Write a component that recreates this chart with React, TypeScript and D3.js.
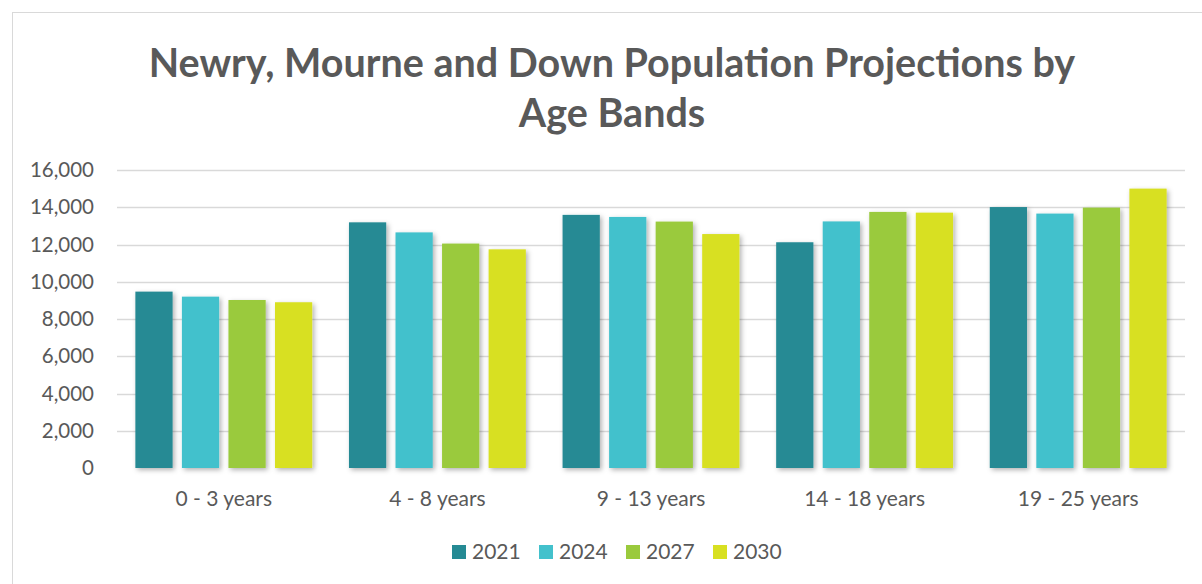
import React, { useRef, useEffect } from "react";
import * as d3 from "d3";

const ageBands = ["0 - 3 years", "4 - 8 years", "9 - 13 years", "14 - 18 years", "19 - 25 years"];
const years = ["2021", "2024", "2027", "2030"];
const pop2021 = [9470, 13190, 13590, 12120, 14010];
const pop2024 = [9200, 12650, 13480, 13240, 13660];
const pop2027 = [9020, 12050, 13230, 13750, 13980];
const pop2030 = [8900, 11740, 12560, 13710, 15000];
const yTicks = [0, 2000, 4000, 6000, 8000, 10000, 12000, 14000, 16000];
const colors = ["#258A94", "#43C1CC", "#9ACA3C", "#D8E021"];

const App = () => {
  const svgRef = useRef<SVGSVGElement>(null);

  useEffect(() => {
    const svg = d3.select(svgRef.current);
    svg.selectAll("*").remove();

    const width = 1202;
    const height = 584;
    const margin = { top: 170, right: 17, bottom: 116, left: 117 };
    const font = "Lato, 'Open Sans', sans-serif";
    const textColor = "#595959";
    const series = [pop2021, pop2024, pop2027, pop2030];

    svg.attr("width", width).attr("height", height);

    // drop shadow like the office chart
    const defs = svg.append("defs");
    const filter = defs.append("filter").attr("id", "shadow")
      .attr("x", "-20%").attr("y", "-20%").attr("width", "150%").attr("height", "150%");
    filter.append("feDropShadow")
      .attr("dx", 2).attr("dy", 2).attr("stdDeviation", 2.5)
      .attr("flood-color", "#000").attr("flood-opacity", 0.3);

    svg.append("rect")
      .attr("x", 12.5).attr("y", 12.5)
      .attr("width", width - 12).attr("height", height - 12)
      .attr("fill", "#fff").attr("stroke", "#D9D9D9");

    const x = d3.scaleBand()
      .domain(ageBands)
      .range([margin.left, width - margin.right])
      .paddingInner(0.172).paddingOuter(0.086);

    const xYear = d3.scaleBand()
      .domain(years)
      .range([0, x.bandwidth()])
      .paddingInner(0.2);

    const y = d3.scaleLinear()
      .domain([0, 16000])
      .range([height - margin.bottom, margin.top]);

    // title
    const title = svg.append("text")
      .attr("text-anchor", "middle")
      .attr("font-family", font)
      .attr("font-weight", "bold")
      .attr("font-size", 39.5)
      .attr("fill", textColor);
    title.append("tspan").attr("x", 612).attr("y", 77).text("Newry, Mourne and Down Population Projections by");
    title.append("tspan").attr("x", 612).attr("y", 127).text("Age Bands");

    // gridlines
    svg.append("g")
      .selectAll("line")
      .data(yTicks.slice(1))
      .join("line")
      .attr("x1", margin.left).attr("x2", width - margin.right)
      .attr("y1", d => Math.round(y(d)) + 0.5).attr("y2", d => Math.round(y(d)) + 0.5)
      .attr("stroke", "#D9D9D9").attr("stroke-width", 1.5);

    // y axis labels
    svg.append("g")
      .selectAll("text")
      .data(yTicks)
      .join("text")
      .attr("x", 94)
      .attr("y", d => y(d))
      .attr("dy", "0.35em")
      .attr("text-anchor", "end")
      .attr("font-family", font)
      .attr("font-size", 20.5)
      .attr("fill", textColor)
      .text(d => d3.format(",")(d));

    // bars
    const groups = svg.append("g")
      .selectAll("g")
      .data(ageBands)
      .join("g")
      .attr("transform", d => `translate(${x(d)},0)`);

    groups.selectAll("rect")
      .data((d, i) => years.map((yr, j) => ({ yr, j, value: series[j][i] })))
      .join("rect")
      .attr("x", d => xYear(d.yr))
      .attr("y", d => y(d.value))
      .attr("width", xYear.bandwidth())
      .attr("height", d => y(0) - y(d.value))
      .attr("fill", d => colors[d.j])
      .attr("filter", "url(#shadow)");

    // baseline
    svg.append("line")
      .attr("x1", margin.left).attr("x2", width - margin.right)
      .attr("y1", y(0) + 0.5).attr("y2", y(0) + 0.5)
      .attr("stroke", "#BFBFBF").attr("stroke-width", 1.5)
      .attr("filter", "url(#shadow)");

    // x labels
    svg.append("g")
      .selectAll("text")
      .data(ageBands)
      .join("text")
      .attr("x", d => x(d) + x.bandwidth() / 2)
      .attr("y", 506)
      .attr("text-anchor", "middle")
      .attr("font-family", font)
      .attr("font-size", 21)
      .attr("fill", textColor)
      .text(d => d);

    // legend
    const legend = svg.append("g");
    const legendX = d3.scaleBand().domain(years).range([452, 800]).paddingInner(0);
    const items = legend.selectAll("g")
      .data(years)
      .join("g")
      .attr("transform", d => `translate(${legendX(d)},0)`);
    items.append("rect")
      .attr("x", 0).attr("y", 545)
      .attr("width", 14).attr("height", 14)
      .attr("fill", (d, i) => colors[i]);
    items.append("text")
      .attr("x", 20).attr("y", 559)
      .attr("font-family", font)
      .attr("font-size", 21)
      .attr("fill", textColor)
      .text(d => d);
  }, []);

  return (
    <div style={{ position: "absolute", left: 0, top: 0 }}>
      <svg ref={svgRef} style={{ display: "block" }}></svg>
    </div>
  );
};

export default App;
